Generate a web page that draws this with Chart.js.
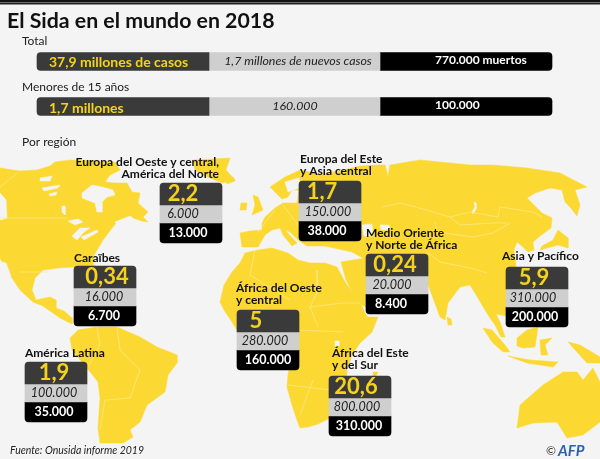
<!DOCTYPE html>
<html>
<head>
<meta charset="utf-8">
<title>El Sida en el mundo en 2018</title>
<script src="https://cdn.jsdelivr.net/npm/chart.js@4"></script>
<style>
  html, body { margin: 0; padding: 0; background: #f4f4f4; }
  canvas { display: block; }
</style>
</head>
<body>
<canvas id="sida-chart" width="600" height="459"></canvas>
<script>
// Figures, as printed on the picture
const totalLabels = ['37,9 millones de casos', '1,7 millones de nuevos casos', '770.000 muertos'];
const childLabels = ['1,7 millones', '160.000', '100.000'];

const regionNames = [
    ['Europa del Oeste y central,', 'América del Norte'],
    ['Caraïbes'],
    ['Europa del Este', 'y Asia central'],
    ['Medio Oriente', 'y Norte de África'],
    ['Asia y Pacífico'],
    ['África del Oeste', 'y central'],
    ['América Latina'],
    ['África del Este', 'y del Sur']
];
const regionCases = ['2,2', '0,34', '1,7', '0,24', '5,9', '5', '1,9', '20,6'];
const regionNew = ['6.000', '16.000', '150.000', '20.000', '310.000', '280.000', '100.000', '800.000'];
const regionDeaths = ['13.000', '6.700', '38.000', '8.400', '200.000', '160.000', '35.000', '310.000'];

// Layout of the region boxes: left edge, top edge, text centres, label position
const boxLayout = [
    { left: 160, top: 183, c: 183, n: 183, d: 188, lx: 219, ly: 162, align: 'right' },
    { left: 74, top: 266, c: 107, n: 104, d: 104, lx: 74, ly: 258, align: 'left' },
    { left: 299, top: 181, c: 322, n: 328, d: 327, lx: 300, ly: 159, align: 'left' },
    { left: 366, top: 254, c: 395, n: 392, d: 391, lx: 366, ly: 233, align: 'left' },
    { left: 506, top: 267, c: 534, n: 533, d: 535, lx: 502, ly: 256, align: 'left' },
    { left: 237, top: 310, c: 256, n: 265, d: 268, lx: 236, ly: 288, align: 'left' },
    { left: 25, top: 362, c: 54, n: 54, d: 54, lx: 25, ly: 353, align: 'left' },
    { left: 329, top: 376, c: 356, n: 357, d: 359, lx: 332, ly: 353, align: 'left' }
];

// Base map outlines, in picture units
const landShapes = [
    // North and Central America
    [[0,168],[20,171],[37,170],[50,166],[55,162],[70,160],[95,161],[115,162],[120,170],[110,175],[105,182],[115,183],[127,183],[132,192],[140,193],[138,203],[148,212],[143,217],[148,222],[142,221],[133,218],[117,222],[112,228],[103,240],[97,250],[93,257],[93,265],[100,268],[100,280],[90,270],[73,267],[58,268],[43,270],[35,278],[32,290],[36,300],[50,297],[56,300],[56,308],[64,311],[72,318],[72,324],[60,318],[43,306],[33,302],[20,290],[8,272],[0,258]],
    // Greenland, Iceland
    [[193,160],[230,158],[226,170],[235,180],[222,183],[215,180],[205,176],[195,170]],
    [[225,179],[233,177],[235,181],[227,184]],
    // South America
    [[70,338],[78,330],[97,327],[117,327],[140,337],[157,347],[177,355],[177,363],[168,375],[165,392],[147,405],[140,422],[130,430],[133,437],[123,443],[100,443],[98,428],[100,398],[98,382],[87,368],[72,350]],
    // Africa
    [[220,302],[224,285],[232,272],[240,263],[245,253],[258,250],[272,248],[288,253],[298,260],[310,263],[325,263],[337,267],[345,282],[360,302],[367,317],[378,317],[372,332],[360,343],[352,355],[347,370],[345,395],[330,418],[318,424],[308,427],[300,428],[298,423],[292,405],[287,387],[288,375],[290,365],[280,345],[255,340],[240,335],[232,322],[224,310]],
    // Arabia
    [[341,262],[365,258],[395,285],[392,300],[366,307],[362,305],[355,297],[346,280]],
    // Eurasia
    [[270,187],[285,177],[300,170],[320,174],[340,171],[360,166],[377,165],[385,165],[388,176],[390,165],[420,160],[440,162],[470,165],[493,165],[527,168],[560,173],[587,187],[575,190],[580,205],[577,216],[570,207],[565,202],[562,190],[550,188],[535,193],[527,198],[542,213],[552,218],[551,228],[540,236],[533,242],[534,250],[528,252],[523,247],[517,242],[514,250],[516,265],[512,290],[506,316],[496,314],[500,322],[505,337],[501,337],[495,325],[490,318],[485,310],[475,293],[470,285],[460,287],[448,303],[445,320],[440,317],[430,290],[426,280],[400,275],[370,262],[352,252],[325,246],[307,246],[298,240],[290,232],[280,228],[272,230],[265,235],[258,247],[242,247],[240,233],[250,231],[262,230],[262,223],[265,217],[275,208],[283,203],[297,203],[299,190],[292,190],[288,197],[282,199],[277,194]],
    // Islands: Italy, Britain, Ireland, Japan, Sri Lanka, Madagascar
    [[280,228],[285,230],[297,243],[292,246],[283,235]],
    [[253,195],[258,197],[263,210],[252,215],[255,205]],
    [[241,203],[247,203],[246,210],[240,210]],
    [[558,230],[568,238],[568,248],[558,245],[540,250],[542,246],[553,240]],
    [[447,317],[451,319],[452,325],[448,325]],
    [[373,372],[378,372],[376,376],[373,376]],
    // Indonesia and New Guinea
    [[483,328],[492,330],[505,345],[510,352],[503,352],[492,342]],
    [[508,356],[530,360],[558,362],[553,367],[527,363]],
    [[517,338],[527,330],[538,327],[535,347],[523,348],[517,346]],
    [[540,340],[552,338],[545,345],[548,355],[541,355]],
    [[568,342],[580,345],[600,357],[600,363],[587,363],[577,352]],
    // Australia
    [[517,428],[520,405],[543,385],[563,372],[577,372],[583,380],[593,368],[600,382],[600,422],[583,435],[567,438],[557,422],[533,423]]
];

// Seas and lakes cut out of the land
const waterShapes = [
    // Hudson Bay and the Canadian straits
    [[82,193],[92,185],[102,187],[113,190],[115,195],[107,197],[102,202],[102,212],[97,212],[95,203],[82,198]],
    [[40,178],[52,176],[50,181],[40,181]],
    [[42,188],[60,185],[58,188],[44,191]],
    [[49,194],[57,192],[56,195],[50,196]],
    [[62,206],[65,206],[65,215],[62,212]],
    [[115,222],[130,216],[133,218],[118,226]],
    // Great Lakes
    [[68,221],[78,219],[83,222],[75,225]],
    [[72,236],[80,228],[90,228],[84,232],[77,240]],
    [[81,237],[97,230],[98,232],[84,240]],
    // Baja California and the Alaskan panhandle
    [[2,262],[6,263],[11,276],[7,274]],
    [[0,193],[6,200],[7,218],[0,220]],
    // Baltic, Black Sea, Caspian, Baikal, Lake Victoria
    [[285,182],[299,178],[299,188],[288,192]],
    [[362,225],[372,224],[373,236],[364,236]],
    [[380,225],[389,225],[390,230],[381,230]],
    [[472,212],[475,207],[474,202],[476,203],[476,209],[473,214]],
    [[335,341],[339,341],[339,346],[335,346]]
];

// Country borders, thin lines over the land
const borderLines = [
    [[0,218],[67,218]],
    [[0,187],[17,173]],
    [[20,272],[48,272]],
    [[97,327],[100,345],[87,368]],
    [[117,327],[120,350],[140,370],[130,398],[105,400],[100,430]],
    [[382,207],[400,203],[427,210],[450,217],[470,212],[498,217],[500,207],[533,212],[542,217]],
    [[450,217],[460,225],[493,223],[507,223]],
    [[435,222],[437,232],[473,237],[493,233],[510,223]],
    [[427,252],[440,262],[470,268],[487,273]],
    [[317,270],[317,293],[310,307],[318,327]],
    [[300,330],[343,332]],
    [[310,307],[343,303],[360,303]],
    [[313,380],[308,393],[300,415]],
    [[255,250],[250,275],[290,300]],
    [[288,385],[330,390]],
    [[258,232],[275,210]],
    [[283,205],[298,225]]
];

const landColor = '#fbd932';
const seaColor = '#f4f4f4';
const font = 'Lato, "Noto Sans", sans-serif';

function shapeDataset(points, color, order) {
    return {
        type: 'line',
        data: points.concat([points[0]]).map(p => ({ x: p[0], y: p[1] })),
        borderColor: color,
        backgroundColor: color,
        borderWidth: 0.5,
        pointRadius: 0,
        tension: 0,
        fill: 'shape',
        order: order
    };
}

function borderDataset(points) {
    return {
        type: 'line',
        data: points.map(p => ({ x: p[0], y: p[1] })),
        borderColor: '#fdea8e',
        borderWidth: 0.7,
        pointRadius: 0,
        tension: 0,
        fill: false,
        order: 2
    };
}

// One dataset per band colour; `stack` keeps the bars from being split into groups
function rowDataset(rows, color, thickness, radius) {
    return {
        type: 'bar',
        indexAxis: 'y',
        stack: 'row',
        data: rows,
        backgroundColor: color,
        barThickness: thickness,
        borderSkipped: false,
        borderRadius: radius,
        order: 0
    };
}

const darkColor = '#3a3a3a';
const greyColor = '#cfcfcf';
const blackColor = '#000000';
const boxWidth = 62;

const datasets = [];
landShapes.forEach(s => datasets.push(shapeDataset(s, landColor, 4)));
waterShapes.forEach(s => datasets.push(shapeDataset(s, seaColor, 3)));
borderLines.forEach(s => datasets.push(borderDataset(s)));

// Top rule
datasets.push(rowDataset([{ x: [0, 600], y: 1 }], '#111111', 2, 0));
datasets.push(rowDataset([{ x: [0, 600], y: 3.5 }], '#222222', 1.5, 0));

// Total and under 15 bars
const topRows = [61.5, 106.5];
datasets.push(rowDataset(topRows.map(y => ({ x: [37, 209], y: y })), darkColor, 18, { topLeft: 4, bottomLeft: 4, topRight: 0, bottomRight: 0 }));
datasets.push(rowDataset(topRows.map(y => ({ x: [209, 380], y: y })), greyColor, 18, 0));
datasets.push(rowDataset(topRows.map(y => ({ x: [380, 552], y: y })), blackColor, 18, { topLeft: 0, bottomLeft: 0, topRight: 4, bottomRight: 4 }));

// Region boxes
const boxRows = (offset) => boxLayout.map(b => ({ x: [b.left, b.left + boxWidth], y: b.top + offset }));
datasets.push(rowDataset(boxRows(11), darkColor, 22, { topLeft: 4, topRight: 4, bottomLeft: 0, bottomRight: 0 }));
datasets.push(rowDataset(boxRows(31), greyColor, 18, 0));
datasets.push(rowDataset(boxRows(50), blackColor, 20, { topLeft: 0, topRight: 0, bottomLeft: 4, bottomRight: 4 }));

// All the text goes on top of the marks
const textPlugin = {
    id: 'sidaText',
    afterDatasetsDraw(chart) {
        const ctx = chart.ctx;
        const sx = chart.scales.x;
        const sy = chart.scales.y;
        const put = (str, x, y, style, color, align) => {
            ctx.font = style + ' ' + font;
            ctx.fillStyle = color;
            ctx.textAlign = align || 'left';
            ctx.textBaseline = 'middle';
            ctx.fillText(str, sx.getPixelForValue(x), sy.getPixelForValue(y));
        };
        ctx.save();
        put('El Sida en el mundo en 2018', 7, 21, 'bold 21.3px', '#111111');
        put('Total', 22, 41, '12px', '#222222');
        put('Menores de 15 años', 22, 87, '12px', '#222222');
        put('Por región', 22, 142, '12px', '#222222');

        put(totalLabels[0], 49, 62, 'bold 14px', '#f5d31c');
        put(totalLabels[1], 298, 60.5, 'italic 12.4px', '#222222', 'center');
        put(totalLabels[2], 435, 60.5, 'bold 12px', '#ffffff');
        put(childLabels[0], 49, 108, 'bold 14px', '#f5d31c');
        put(childLabels[1], 295, 106, 'italic 12.4px', '#222222', 'center');
        put(childLabels[2], 435, 105, 'bold 12px', '#ffffff');

        boxLayout.forEach((b, i) => {
            regionNames[i].forEach((line, k) => {
                put(line, b.lx, b.ly + k * 12.6, 'bold 12px', '#111111', b.align);
            });
            put(regionCases[i], b.c, b.top + 11, 'bold 22px', '#f5d31c', 'center');
            put(regionNew[i], b.n, b.top + 31, 'italic 12.5px', '#222222', 'center');
            put(regionDeaths[i], b.d, b.top + 50, 'bold 12.5px', '#ffffff', 'center');
        });

        put('Fuente: Onusida informe 2019', 10, 451, 'italic 10.5px', '#222222');
        put('©', 546, 451, '12px', '#333333');
        put('AFP', 558, 451, 'italic bold 15px', '#2b62ad');
        ctx.restore();
    }
};

new Chart(document.getElementById('sida-chart'), {
    data: { datasets: datasets },
    options: {
        responsive: false,
        animation: false,
        events: [],
        layout: { padding: 0 },
        plugins: { legend: { display: false }, tooltip: { enabled: false }, title: { display: false } },
        scales: {
            x: { type: 'linear', display: false, min: 0, max: 600, stacked: false },
            y: { type: 'linear', display: false, min: 0, max: 459, reverse: true, offset: false }
        }
    },
    plugins: [textPlugin]
});
</script>
</body>
</html>
